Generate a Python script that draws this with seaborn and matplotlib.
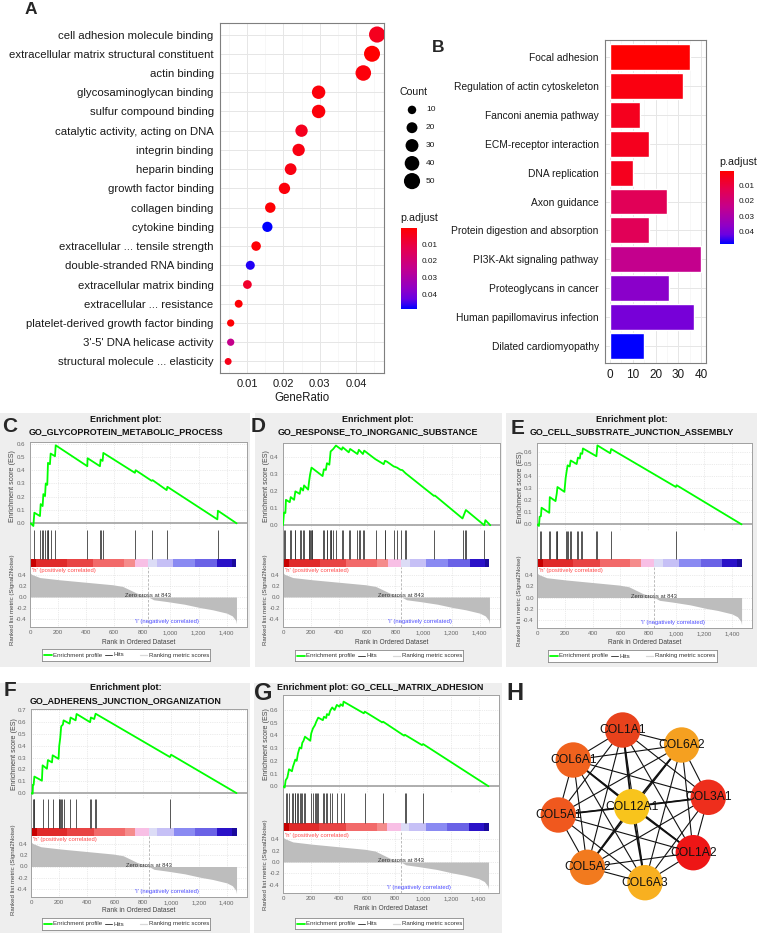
import numpy as np
import pandas as pd
import matplotlib
matplotlib.use("Agg")
import matplotlib.pyplot as plt
import seaborn as sns
from matplotlib.colors import LinearSegmentedColormap, Normalize
from matplotlib.cm import ScalarMappable
from matplotlib.patches import Rectangle

# ---------------- DATA ----------------
# Panel A: GO enrichment dot plot
go_terms = ["cell adhesion molecule binding", "extracellular matrix structural constituent",
            "actin binding", "glycosaminoglycan binding", "sulfur compound binding",
            "catalytic activity, acting on DNA", "integrin binding", "heparin binding",
            "growth factor binding", "collagen binding", "cytokine binding",
            "extracellular ... tensile strength", "double-stranded RNA binding",
            "extracellular matrix binding", "extracellular ... resistance",
            "platelet-derived growth factor binding", "3'-5' DNA helicase activity",
            "structural molecule ... elasticity"]
go_gene_ratio = [0.0458, 0.0444, 0.0420, 0.0297, 0.0297, 0.0250, 0.0242, 0.0220, 0.0203,
                 0.0164, 0.0156, 0.0125, 0.0109, 0.0101, 0.0077, 0.0055, 0.0055, 0.0048]
go_count = [50, 49, 46, 33, 33, 27, 27, 24, 22, 18, 17, 14, 12, 11, 8, 6, 6, 5]
go_padj = [0.005, 0.0003, 0.002, 0.002, 0.002, 0.005, 0.003, 0.003, 0.002, 0.001, 0.049,
           0.001, 0.047, 0.007, 0.001, 0.001, 0.024, 0.004]
count_legend_values = [10, 20, 30, 40, 50]
padj_ticks = [0.01, 0.02, 0.03, 0.04]

# Panel B: KEGG bar plot
kegg_terms = ["Focal adhesion", "Regulation of actin cytoskeleton", "Fanconi anemia pathway",
              "ECM-receptor interaction", "DNA replication", "Axon guidance",
              "Protein digestion and absorption", "PI3K-Akt signaling pathway",
              "Proteoglycans in cancer", "Human papillomavirus infection",
              "Dilated cardiomyopathy"]
kegg_count = [35, 32, 13, 17, 10, 25, 17, 40, 26, 37, 15]
kegg_padj = [0.0005, 0.003, 0.005, 0.005, 0.005, 0.014, 0.014, 0.024, 0.037, 0.040, 0.048]
kegg_xticks = [0, 10, 20, 30, 40]

# GSEA shared ranked list
rank_metric_rank = [0, 10, 70, 210, 400, 590, 660, 710, 760, 810, 843, 880, 970, 1100,
                    1210, 1300, 1400, 1440, 1465, 1470]
rank_metric_value = [0.44, 0.41, 0.35, 0.31, 0.265, 0.22, 0.19, 0.13, 0.07, 0.03, 0.0,
                     -0.05, -0.08, -0.13, -0.19, -0.23, -0.29, -0.34, -0.42, -0.48]
zero_cross = 843
strip_bounds = [0, 40, 260, 451, 669, 747, 842, 902, 1020, 1175, 1329, 1436, 1470]
strip_colors = ["#c80000", "#e02a2a", "#e84444", "#f26a6a", "#f58c8c", "#f8bfe5",
                "#dcdcf6", "#c6c0f6", "#8a8af2", "#6a62e6", "#2a12c8", "#1a0a9c"]
gsea_xticks = [0, 200, 400, 600, 800, 1000, 1200, 1400]
gsea_xticklabels = ["0", "200", "400", "600", "800", "1,000", "1,200", "1,400"]
rank_yticks = [-0.4, -0.2, 0.0, 0.2, 0.4]

# Panel C
c_es_rank = [0, 5, 24, 31, 71, 76, 90, 95, 107, 112, 123, 128, 142, 147, 178, 183, 408, 410,
             498, 503, 517, 522, 747, 752, 866, 873, 973, 978, 1334, 1338, 1471]
c_es_val = [0.0, 0.0, -0.02, 0.08, 0.055, 0.145, 0.13, 0.22, 0.205, 0.30, 0.29, 0.455, 0.445,
            0.525, 0.505, 0.587, 0.43, 0.49, 0.43, 0.48, 0.47, 0.53, 0.38, 0.40, 0.32, 0.325,
            0.25, 0.275, 0.03, 0.095, 0.0]
c_hits = [31, 71, 88, 95, 107, 119, 126, 131, 147, 180, 408, 498, 503, 522, 747, 871, 978, 1336]

# Panel D
d_es_rank = [0, 7, 17, 21, 48, 55, 79, 88, 119, 127, 143, 150, 179, 186, 193, 203, 282, 291,
             305, 313, 330, 339, 358, 377, 418, 425, 468, 478, 530, 540, 569, 578, 657, 717,
             726, 740, 788, 812, 836, 850, 872, 1075, 1082, 1278, 1302, 1433, 1441, 1476]
d_es_val = [0.0, 0.075, 0.072, 0.15, 0.136, 0.166, 0.15, 0.20, 0.185, 0.22, 0.205, 0.235, 0.21,
            0.26, 0.30, 0.34, 0.29, 0.33, 0.326, 0.366, 0.357, 0.435, 0.45, 0.47, 0.445, 0.46,
            0.43, 0.45, 0.42, 0.445, 0.42, 0.44, 0.39, 0.36, 0.38, 0.375, 0.347, 0.34, 0.327,
            0.325, 0.307, 0.173, 0.175, 0.04, 0.09, 0.0, 0.03, 0.0]
d_hits = [7, 17, 48, 55, 84, 88, 119, 127, 143, 150, 182, 186, 191, 196, 203, 208, 282, 291,
          311, 315, 334, 339, 344, 354, 377, 418, 430, 468, 478, 530, 540, 545, 573, 578, 664,
          724, 729, 788, 812, 841, 870, 879, 1075, 1285, 1295, 1302, 1433]

# Panel E
e_es_rank = [0, 14, 19, 28, 33, 88, 92, 133, 142, 147, 197, 206, 213, 220, 235, 242, 285, 294,
             308, 313, 325, 330, 427, 434, 526, 533, 998, 1003, 1470]
e_es_val = [0.0, -0.013, 0.063, 0.068, 0.138, 0.096, 0.226, 0.193, 0.256, 0.31, 0.27, 0.386,
            0.44, 0.49, 0.48, 0.53, 0.50, 0.554, 0.546, 0.59, 0.585, 0.63, 0.565, 0.655, 0.59,
            0.625, 0.31, 0.325, 0.0]
e_hits = [19, 28, 88, 92, 133, 142, 147, 206, 213, 220, 237, 242, 289, 294, 313, 325, 427, 432,
          531, 1001]

# Panel F
f_es_rank = [0, 12, 14, 19, 24, 78, 83, 114, 121, 150, 155, 197, 202, 209, 216, 228, 233, 276,
             283, 319, 326, 423, 428, 452, 462, 994, 1002, 1470]
f_es_val = [0.0, -0.006, 0.07, 0.07, 0.14, 0.105, 0.235, 0.206, 0.28, 0.26, 0.32, 0.29, 0.40,
            0.466, 0.565, 0.58, 0.616, 0.588, 0.64, 0.616, 0.67, 0.60, 0.64, 0.627, 0.672,
            0.305, 0.325, 0.0]
f_hits = [12, 19, 24, 83, 119, 155, 197, 202, 209, 216, 221, 233, 281, 324, 423, 428, 457, 462,
          997]

# Panel G
g_es_rank = [0, 12, 19, 31, 43, 64, 71, 88, 98, 107, 119, 131, 138, 147, 157, 195, 202, 214,
             228, 238, 252, 285, 293, 309, 314, 328, 338, 352, 369, 385, 404, 412, 428, 433,
             578, 585, 709, 716, 866, 872, 994, 1002, 1470]
g_es_val = [0.0, -0.01, 0.047, 0.068, 0.134, 0.118, 0.153, 0.21, 0.20, 0.258, 0.305, 0.297,
            0.342, 0.358, 0.39, 0.358, 0.416, 0.455, 0.48, 0.508, 0.54, 0.52, 0.547, 0.537,
            0.568, 0.56, 0.595, 0.62, 0.60, 0.64, 0.626, 0.645, 0.632, 0.666, 0.574, 0.587,
            0.503, 0.508, 0.398, 0.405, 0.324, 0.332, 0.0]
g_hits = [19, 31, 43, 64, 71, 83, 88, 98, 107, 119, 131, 138, 147, 157, 202, 214, 228, 238,
          245, 252, 285, 293, 309, 314, 338, 352, 385, 412, 433, 583, 714, 873, 880, 999]

# Panel H: PPI network
net_genes = ["COL1A1", "COL6A2", "COL6A1", "COL3A1", "COL12A1", "COL5A1", "COL1A2", "COL5A2",
             "COL6A3"]
net_colors = ["#e8421c", "#f5a020", "#f0621e", "#ee2e1c", "#f8c41c", "#f0581e", "#ee1616",
              "#f27a1e", "#f8b020"]

# ---------------- FIGURE ----------------
sns.set_style("white")
plt.rcParams["font.family"] = ["Liberation Sans", "DejaVu Sans"]

W, H = 759, 933
fig = plt.figure(figsize=(W / 100, H / 100), dpi=100)


def px_ax(l, t, r, b, **kw):
    return fig.add_axes([l / W, 1 - b / H, (r - l) / W, (b - t) / H], **kw)


def ftext(x, y, s, **kw):
    return fig.text(x / W, 1 - y / H, s, **kw)


def bg_rect(x0, y0, x1, y1, color):
    fig.patches.append(Rectangle((x0 / W, 1 - y1 / H), (x1 - x0) / W, (y1 - y0) / H,
                                 transform=fig.transFigure, facecolor=color,
                                 edgecolor="none", zorder=-5))


cmap = LinearSegmentedColormap.from_list(
    "padj", [(0, "#ff0000"), (0.25, "#e5004f"), (0.5, "#c3008e"), (0.75, "#9000c6"),
             (0.875, "#6a00e2"), (1.0, "#0000ff")])

TXT = "#1a1a1a"


def gg_style(ax):
    for s in ax.spines.values():
        s.set_color("#7f7f7f")
        s.set_linewidth(0.8)
    ax.set_axisbelow(True)
    ax.grid(True, which="major", color="#e6e6e6", lw=0.7)
    ax.grid(True, which="minor", axis="x", color="#f3f3f3", lw=0.45)
    ax.tick_params(axis="both", which="major", length=3, width=0.6, color="#333333",
                   labelcolor=TXT, pad=1.5)
    ax.tick_params(axis="both", which="minor", length=0)


def padj_colorbar(l, t, r, b, norm, title_y):
    cax = px_ax(l, t, r, b)
    cb = fig.colorbar(ScalarMappable(norm=norm, cmap=cmap), cax=cax)
    cax.invert_yaxis()
    cb.outline.set_visible(False)
    cb.set_ticks(padj_ticks)
    cb.set_ticklabels([f"{v:.2f}" for v in padj_ticks])
    cax.tick_params(which="both", direction="in", color="white", length=3, width=0.7,
                    left=True, right=True, labelleft=False, labelright=True,
                    labelsize=5.9, labelcolor=TXT, pad=3)
    cax.minorticks_off()
    ftext(l - 1, title_y, "p.adjust", fontsize=7.7, color=TXT, va="center", ha="left")


# ---- Panel A ----
dfA = pd.DataFrame({"term": go_terms, "GeneRatio": go_gene_ratio, "Count": go_count,
                    "p.adjust": go_padj})
normA = Normalize(min(go_padj), max(go_padj))
axA = px_ax(220, 23, 384, 373)
size_norm = (min(go_count), max(go_count))
sizes = (25, 135)
sns.scatterplot(data=dfA, x="GeneRatio", y="term", size="Count", sizes=sizes,
                size_norm=size_norm, hue="p.adjust", hue_norm=normA, palette=cmap,
                edgecolor="none", linewidth=0, legend=False, ax=axA, zorder=3)
axA.set_xlim(0.00256, 0.0477)
axA.set_ylim(len(go_terms) - 0.4, -0.6)
axA.set_xticks([0.01, 0.02, 0.03, 0.04])
axA.set_xticklabels(["0.01", "0.02", "0.03", "0.04"])
axA.set_xticks([0.005, 0.015, 0.025, 0.035, 0.045], minor=True)
gg_style(axA)
axA.tick_params(axis="y", labelsize=8.2)
axA.tick_params(axis="x", labelsize=8.0)
axA.set_ylabel("")
axA.set_xlabel("GeneRatio", fontsize=8.3, color=TXT, labelpad=2)

# Count legend
ftext(400, 92, "Count", fontsize=7.6, color=TXT, va="center")
axLc = px_ax(402, 101, 422, 190)
sns.scatterplot(x=[0.5] * len(count_legend_values), y=list(range(len(count_legend_values))),
                size=count_legend_values, sizes=sizes, size_norm=size_norm, color="black",
                edgecolor="none", linewidth=0, legend=False, ax=axLc)
axLc.set_xlim(0, 1)
axLc.set_ylim(len(count_legend_values) - 0.5, -0.5)
axLc.axis("off")
for i, v in enumerate(count_legend_values):
    ftext(426, 101 + (i + 0.5) * (89 / len(count_legend_values)), str(v), fontsize=6,
          color=TXT, va="center")
padj_colorbar(401, 228, 417, 309, normA, 218)

# ---- Panel B ----
dfB = pd.DataFrame({"term": kegg_terms, "Count": kegg_count, "p.adjust": kegg_padj})
normB = Normalize(min(kegg_padj), max(kegg_padj))
palB = {t: cmap(normB(p)) for t, p in zip(kegg_terms, kegg_padj)}
axB = px_ax(605, 40, 706, 363)
sns.barplot(data=dfB, x="Count", y="term", hue="term", palette=palB, legend=False,
            width=0.9, saturation=1, ax=axB, zorder=3)
axB.set_xlim(-2.2, 42.1)
axB.set_ylim(len(kegg_terms) - 0.4, -0.6)
axB.set_xticks(kegg_xticks)
axB.set_xticks([5, 15, 25, 35], minor=True)
gg_style(axB)
axB.tick_params(axis="y", labelsize=7.4)
axB.tick_params(axis="x", labelsize=8.5)
axB.set_xlabel("")
axB.set_ylabel("")
padj_colorbar(720, 171, 734, 244, normB, 162)

ftext(25, 9, "A", fontsize=12.5, fontweight="bold", va="center", ha="left")
ftext(432, 47, "B", fontsize=12.5, fontweight="bold", va="center", ha="left")

# ---- GSEA panels ----
GS_XMAX = 1545
GREY_T = "#666666"


def draw_gsea(sp, es_rank, es_val, hits):
    l, r = sp["left"], sp["right"]
    bg_rect(*sp["bg"], "#eeeeee")
    # titles
    for line, y in zip(sp["title"], sp["title_y"]):
        ftext(sp["title_x"], y, line, fontsize=6.4, fontweight="bold", ha="center",
              va="center", color="#111111")
    ftext(sp["letter_xy"][0], sp["letter_xy"][1], sp["letter"], fontsize=sp["letter_fs"],
          fontweight="bold", ha="left", va="center")
    # ES
    ax = px_ax(l, sp["es_top"], r, sp["es_bot"])
    ax.set_facecolor("white")
    ax.grid(True, color="#d8d8d8", lw=0.5, ls=":")
    ax.axhline(0, color="#a8a8a8", lw=1.3, zorder=2)
    sns.lineplot(x=es_rank, y=es_val, sort=False, estimator=None, color="#00ff00",
                 linewidth=1.3, ax=ax, zorder=3)
    ax.set_xlim(0, GS_XMAX)
    ax.set_ylim(*sp["es_ylim"])
    ax.set_xticks(gsea_xticks)
    ax.set_xticklabels([])
    ax.set_yticks(sp["es_ticks"])
    ax.set_yticklabels([f"{t:.1f}" for t in sp["es_ticks"]])
    ax.tick_params(axis="x", length=0)
    ax.tick_params(axis="y", length=2, width=0.5, color="#999999", labelsize=4.4,
                   labelcolor=GREY_T, pad=1.5)
    ax.set_xlabel("")
    ax.set_ylabel("")
    for s in ax.spines.values():
        s.set_color("#a0a0a0")
        s.set_linewidth(0.7)
    # hits + strip
    axh = px_ax(l, sp["es_bot"], r, sp["strip_bot"])
    f = (sp["strip_bot"] - sp["hit_bot"]) / (sp["strip_bot"] - sp["es_bot"])
    axh.set_xlim(0, GS_XMAX)
    axh.set_ylim(0, 1)
    axh.vlines(hits, f, 1, color="#3a3a3a", lw=0.6)
    for i, c in enumerate(strip_colors):
        axh.add_patch(Rectangle((strip_bounds[i], 0), strip_bounds[i + 1] - strip_bounds[i], f,
                                facecolor=c, edgecolor="none"))
    axh.set_xticks([])
    axh.set_yticks([])
    for k, s in axh.spines.items():
        s.set_color("#a0a0a0")
        s.set_linewidth(0.7)
    axh.spines["top"].set_visible(False)
    axh.spines["bottom"].set_visible(False)
    # ranked metric
    axr = px_ax(l, sp["strip_bot"], r, sp["rk_bot"])
    axr.grid(True, color="#d8d8d8", lw=0.5, ls=":")
    axr.set_axisbelow(True)
    axr.fill_between(rank_metric_rank, rank_metric_value, 0, color="#bdbdbd", lw=0, zorder=2)
    axr.axvline(zero_cross, color="#b0b0b0", lw=0.6, ls=(0, (3, 2)), zorder=3)
    axr.set_xlim(0, GS_XMAX)
    axr.set_ylim(-0.54, 0.54)
    axr.set_xticks(gsea_xticks)
    axr.set_xticklabels(gsea_xticklabels)
    axr.set_yticks(rank_yticks)
    axr.set_yticklabels([f"{t:.1f}" for t in rank_yticks])
    axr.tick_params(axis="both", length=1.5, width=0.5, color="#999999", labelsize=4.4,
                    labelcolor=GREY_T, pad=0.8)
    for s in axr.spines.values():
        s.set_color("#a0a0a0")
        s.set_linewidth(0.7)
    axr.spines["top"].set_visible(False)
    axr.text(12, 0.47, "'h' (positively correlated)", fontsize=4.2, color="#ff4a4a",
             ha="left", va="center")
    axr.text(zero_cross, 0.02, "Zero cross at 843", fontsize=4.2, color="#333333",
             ha="center", va="center", zorder=4)
    axr.text(975, -0.45, "'l' (negatively correlated)", fontsize=4.2, color="#4a4aff",
             ha="center", va="center")
    # labels
    ftext((l + r) / 2, sp["xlabel_y"], "Rank in Ordered Dataset", fontsize=4.8,
          color="#444444", ha="center", va="center")
    ftext(l - 17, (sp["es_top"] + sp["es_bot"]) / 2, "Enrichment score (ES)", fontsize=5.1,
          color="#444444", rotation=90, ha="center", va="center")
    ftext(l - 17, (sp["strip_bot"] + sp["rk_bot"]) / 2 + 3,
          "Ranked list metric (Signal2Noise)", fontsize=4.4, color="#444444", rotation=90,
          ha="center", va="center")
    # legend box
    lx0, ly0, lx1, ly1 = sp["legend"]
    axl = px_ax(lx0, ly0, lx1, ly1)
    axl.set_facecolor("white")
    axl.set_xlim(0, lx1 - lx0)
    axl.set_ylim(1, 0)
    axl.plot([1.5, 9.7], [0.5, 0.5], color="#00ff00", lw=1.3)
    axl.text(11.3, 0.5, "Enrichment profile", va="center", fontsize=4.4, color="#333333")
    axl.plot([63, 70], [0.5, 0.5], color="#444444", lw=0.7)
    axl.text(71.5, 0.5, "Hits", va="center", fontsize=4.4, color="#333333")
    axl.plot([98, 105], [0.5, 0.5], color="#d8d8d8", lw=0.9)
    axl.text(107, 0.5, "Ranking metric scores", va="center", fontsize=4.4, color="#333333")
    axl.set_xticks([])
    axl.set_yticks([])
    for s in axl.spines.values():
        s.set_color("#888888")
        s.set_linewidth(0.6)


spec_C = dict(left=30, right=247, es_top=442, es_bot=530, hit_bot=559, strip_bot=567,
              rk_bot=627, xlabel_y=642, legend=(42, 649, 210, 661), bg=(0, 413, 250, 667),
              title=["Enrichment plot:", "GO_GLYCOPROTEIN_METABOLIC_PROCESS"],
              title_y=[420, 432], title_x=126, letter="C", letter_xy=(2, 427), letter_fs=15,
              es_ylim=(-0.05, 0.612), es_ticks=[0.0, 0.1, 0.2, 0.3, 0.4, 0.5, 0.6])
spec_D = dict(left=283, right=500, es_top=443, es_bot=530, hit_bot=559, strip_bot=567,
              rk_bot=627, xlabel_y=642, legend=(295, 650, 463, 661), bg=(255, 413, 502, 667),
              title=["Enrichment plot:", "GO_RESPONSE_TO_INORGANIC_SUBSTANCE"],
              title_y=[420, 432], title_x=378, letter="D", letter_xy=(251, 427), letter_fs=15,
              es_ylim=(-0.028, 0.485), es_ticks=[0.0, 0.1, 0.2, 0.3, 0.4])
spec_E = dict(left=537, right=752, es_top=443, es_bot=531, hit_bot=559, strip_bot=567,
              rk_bot=628, xlabel_y=643, legend=(548, 650, 717, 662), bg=(506, 413, 757, 667),
              title=["Enrichment plot:", "GO_CELL_SUBSTRATE_JUNCTION_ASSEMBLY"],
              title_y=[420, 432], title_x=632, letter="E", letter_xy=(511, 428), letter_fs=15,
              es_ylim=(-0.055, 0.675), es_ticks=[0.0, 0.1, 0.2, 0.3, 0.4, 0.5, 0.6])
spec_F = dict(left=31, right=247, es_top=709, es_bot=799, hit_bot=828, strip_bot=836,
              rk_bot=897, xlabel_y=910, legend=(42, 918, 210, 930), bg=(0, 683, 250, 933),
              title=["Enrichment plot:", "GO_ADHERENS_JUNCTION_ORGANIZATION"],
              title_y=[688, 701], title_x=126, letter="F", letter_xy=(4, 690), letter_fs=15,
              es_ylim=(-0.05, 0.712), es_ticks=[0.0, 0.1, 0.2, 0.3, 0.4, 0.5, 0.6, 0.7])
spec_G = dict(left=283, right=499, es_top=695, es_bot=793, hit_bot=823, strip_bot=831,
              rk_bot=893, xlabel_y=908, legend=(295, 918, 463, 929), bg=(254, 683, 502, 933),
              title=["Enrichment plot: GO_CELL_MATRIX_ADHESION"],
              title_y=[688], title_x=380, letter="G", letter_xy=(254, 694), letter_fs=17,
              es_ylim=(-0.053, 0.718), es_ticks=[0.0, 0.1, 0.2, 0.3, 0.4, 0.5, 0.6])

draw_gsea(spec_C, c_es_rank, c_es_val, c_hits)
draw_gsea(spec_D, d_es_rank, d_es_val, d_hits)
draw_gsea(spec_E, e_es_rank, e_es_val, e_hits)
draw_gsea(spec_F, f_es_rank, f_es_val, f_hits)
draw_gsea(spec_G, g_es_rank, g_es_val, g_hits)

# ---- Panel H: network ----
node_x = [622.7, 681.7, 573.3, 708.3, 631.7, 558.3, 693.3, 587.3, 645.0]
node_y = [730.0, 745.0, 760.0, 797.3, 806.7, 815.0, 852.7, 867.3, 882.7]
axH = px_ax(530, 700, 740, 910)
axH.set_xlim(530, 740)
axH.set_ylim(910, 700)
axH.axis("off")
hub = net_genes.index("COL12A1")
for i in range(len(net_genes)):
    for j in range(i + 1, len(net_genes)):
        lw = 1.3 if hub in (i, j) else 0.8
        axH.plot([node_x[i], node_x[j]], [node_y[i], node_y[j]], color="#111111", lw=lw,
                 zorder=1)
dfH = pd.DataFrame({"x": node_x, "y": node_y, "gene": net_genes})
sns.scatterplot(data=dfH, x="x", y="y", hue="gene", palette=dict(zip(net_genes, net_colors)),
                s=650, edgecolor="none", linewidth=0, legend=False, ax=axH, zorder=2)
axH.set_xlabel("")
axH.set_ylabel("")
for g, x, y in zip(net_genes, node_x, node_y):
    axH.text(x, y, g, fontsize=8.7, ha="center", va="center", color="#111111", zorder=3)
ftext(506, 694, "H", fontsize=17, fontweight="bold", ha="left", va="center")

fig.savefig("out.png", dpi=100)
